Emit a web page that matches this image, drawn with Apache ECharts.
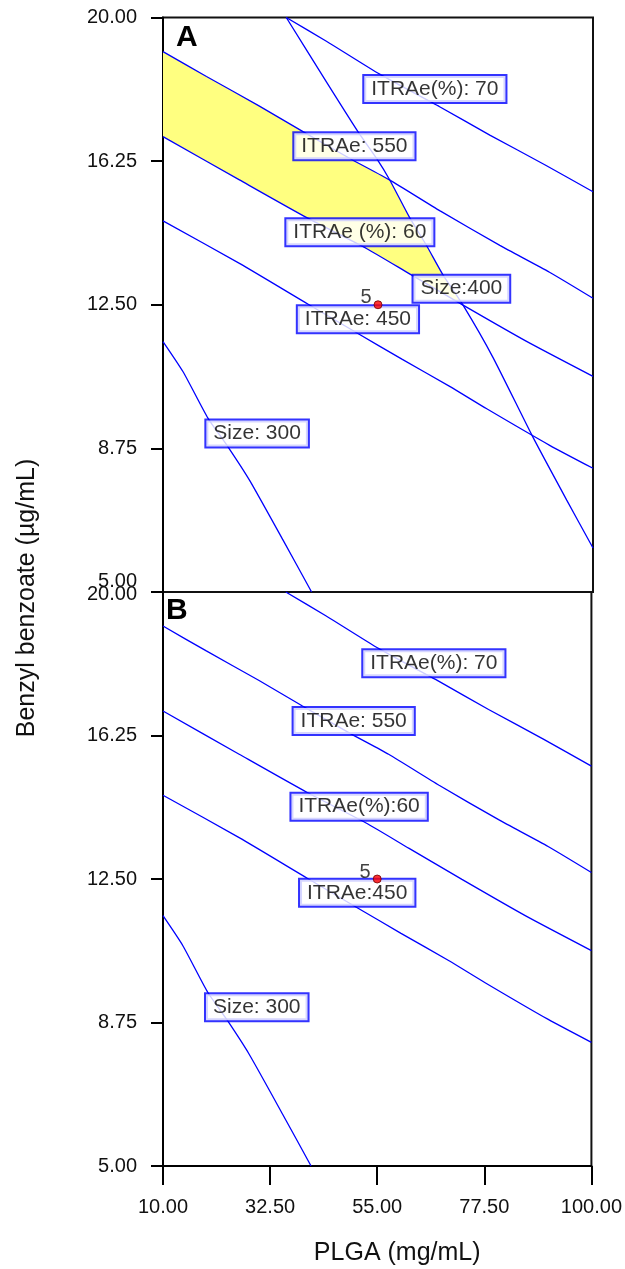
<!DOCTYPE html>
<html><head><meta charset="utf-8">
<script src="https://cdn.jsdelivr.net/npm/echarts@6/dist/echarts.min.js"></script>
<style>html,body{margin:0;padding:0;background:#fff}#c{width:625px;height:1269px}</style>
</head><body><div id="c"></div>
<script>
// ---- data (PLGA mg/mL, Benzyl benzoate µg/mL) ----
const xTicks = [10, 32.5, 55, 77.5, 100];
const yTicks = [5, 8.75, 12.5, 16.25, 20];
const xName = 'PLGA (mg/mL)';
const yName = 'Benzyl benzoate (µg/mL)';

const itrae70 = [[35.8,20],[44.2,19.38],[55.35,18.52],[67.9,17.67],[78.4,16.93],[90,16.15],[100,15.45]];
const itrae550 = [[10,19.11],[19.1,18.46],[30,17.7],[39.3,17.02],[49.4,16.30],[57.4,15.76],[68,14.95],[80.5,14.05],[90.9,13.35],[100,12.67]];
const itrae60 = [[10,16.89],[26,15.76],[40.3,14.76],[52.57,13.97],[61.7,13.3],[72.8,12.49],[86,11.55],[100,10.63]];
const itrae450 = [[10,14.69],[26,13.58],[40.3,12.52],[50.8,11.75],[60,11.08],[70,10.37],[77.67,9.79],[90.93,8.83],[100,8.23]];
const size300 = [[10,11.54],[14.2,10.75],[19.4,9.54],[23.6,8.79],[28.1,7.92],[35.1,6.36],[41.1,5.0]];
const size400 = [[35.8,20],[44.2,18.32],[50.8,17.02],[54.7,16.32],[57.4,15.77],[61.6,14.78],[65.1,14.06],[68.6,13.28],[72.8,12.49],[79.0,11.14],[87.4,9.05],[94.5,7.40],[100,6.15]];
const yellowRegion = [[10,19.11],[19.1,18.46],[30,17.7],[39.3,17.02],[49.4,16.30],[57.4,15.77],[61.6,14.78],[65.1,14.06],[68.6,13.28],[72.8,12.49],[61.7,13.3],[52.57,13.97],[40.3,14.76],[26,15.76],[10,16.89]];

const labelsA = [['ITRAe(%): 70',66.9,18.13],['ITRAe: 550',50.06,16.64],['ITRAe (%): 60',51.2,14.39],['Size:400',72.45,12.92],['ITRAe: 450',50.8,12.12],['Size: 300',29.7,9.14]];
const labelsB = [['ITRAe(%): 70',66.9,18.14],['ITRAe: 550',50.06,16.63],['ITRAe(%):60',51.2,14.39],['ITRAe:450',50.8,12.14],['Size: 300',29.7,9.15]];
const designPoint = [[55, 12.5]];
const designLabel = '5';
const panelNames = ['A', 'B'];

const FONT = '"Liberation Sans", Arial, sans-serif';
const BLUE = '#0000ff';
const TXT = '#111';
const fmt = v => v.toFixed(2);

function lineSeries(data, gi) {
  return {type:'line', xAxisIndex:gi, yAxisIndex:gi, data, symbol:'none', showSymbol:false,
    smooth:0.2,
    lineStyle:{color:BLUE, width:1.3}, z:3, silent:true, animation:false};
}
function labelSeries(list, gi) {
  return {type:'scatter', xAxisIndex:gi, yAxisIndex:gi, symbolSize:0, z:10, silent:true, animation:false,
    data: list.map(l => ({name:l[0], value:[l[1], l[2]]})),
    label:{show:true, position:'inside', formatter:'{b}', fontFamily:FONT, fontSize:21, color:'#000',
      textBorderWidth:0, textBorderColor:'transparent',
      backgroundColor:'#fff', borderColor:BLUE, borderWidth:2, padding:[3,7,2,7], lineHeight:21}};
}
function pointSeries(gi) {
  return {type:'scatter', xAxisIndex:gi, yAxisIndex:gi, data:designPoint, symbolSize:8, z:11, silent:true, animation:false,
    itemStyle:{color:'#ff0000', borderColor:'#700000', borderWidth:1},
    label:{show:true, formatter:designLabel, position:'left', distance:2, offset:[0,-7], fontFamily:FONT, fontSize:20, color:TXT,
      textBorderWidth:0}};
}

const gridBase = {left:163, width:430, show:true, borderColor:'#111', borderWidth:2, backgroundColor:'transparent'};
const xBase = {type:'value', min:xTicks[0], max:xTicks[xTicks.length-1], interval:xTicks[1]-xTicks[0], splitLine:{show:false}};
function yAxisFor(gi) {
  return {gridIndex:gi, type:'value', min:yTicks[0], max:yTicks[yTicks.length-1], interval:yTicks[1]-yTicks[0],
    splitLine:{show:false},
    axisLine:{show:true, onZero:false, lineStyle:{color:'#000', width:2}},
    axisTick:{show:true, length:12, lineStyle:{color:'#000', width:2}},
    axisLabel:{margin:26, fontFamily:FONT, fontSize:20, color:TXT,
      formatter: v => {
        if (gi === 0 && v === yTicks[0]) return '{lo|' + fmt(v) + '}';
        if (gi === 1 && v === yTicks[yTicks.length-1]) return '{hi|' + fmt(v) + '}';
        return fmt(v);
      },
      rich:{lo:{fontFamily:FONT, fontSize:20, color:TXT, padding:[0,0,22,0]},
            hi:{fontFamily:FONT, fontSize:20, color:TXT, padding:[4,0,0,0]}}}};
}

const option = {
  backgroundColor:'#fff',
  animation:false,
  grid:[Object.assign({top:17.5, height:574.5}, gridBase), Object.assign({top:592, height:574}, gridBase)],
  xAxis:[
    Object.assign({gridIndex:0, axisLine:{show:false, onZero:false}, axisTick:{show:false}, axisLabel:{show:false}}, xBase),
    Object.assign({gridIndex:1,
      axisLine:{show:true, onZero:false, lineStyle:{color:'#000', width:2}},
      axisTick:{show:true, length:19, lineStyle:{color:'#000', width:2}},
      axisLabel:{margin:31, fontFamily:FONT, fontSize:20, color:TXT, formatter:fmt},
      name:xName, nameLocation:'middle', nameGap:75,
      nameTextStyle:{fontFamily:FONT, fontSize:25, color:TXT, padding:[0,0,0,40]}}, xBase)
  ],
  yAxis:[yAxisFor(0), yAxisFor(1)],
  graphic:[
    {type:'text', left:176, top:23, z:20, style:{text:panelNames[0], font:'bold 30px "Liberation Sans", Arial', fill:'#000'}},
    {type:'text', left:166, top:596, z:20, style:{text:panelNames[1], font:'bold 30px "Liberation Sans", Arial', fill:'#000'}},
    {type:'text', x:27, y:598, rotation:Math.PI/2, z:20,
      style:{text:yName, font:'25px "Liberation Sans", Arial', fill:TXT, align:'center', verticalAlign:'middle'}}
  ],
  series:[
    {type:'custom', xAxisIndex:0, yAxisIndex:0, data:[0], z:1, silent:true,
      renderItem:(params, api) => ({type:'polygon', shape:{points: yellowRegion.map(p => api.coord(p))},
        style:{fill:'#ffff80', stroke:null}})},
    lineSeries(itrae70,0), lineSeries(itrae550,0), lineSeries(itrae60,0), lineSeries(itrae450,0),
    lineSeries(size300,0), lineSeries(size400,0),
    labelSeries(labelsA,0), pointSeries(0),
    lineSeries(itrae70,1), lineSeries(itrae550,1), lineSeries(itrae60,1), lineSeries(itrae450,1),
    lineSeries(size300,1),
    labelSeries(labelsB,1), pointSeries(1)
  ]
};
const chart = echarts.init(document.getElementById('c'), null, {renderer:'canvas'});
chart.setOption(option);
</script></body></html>
